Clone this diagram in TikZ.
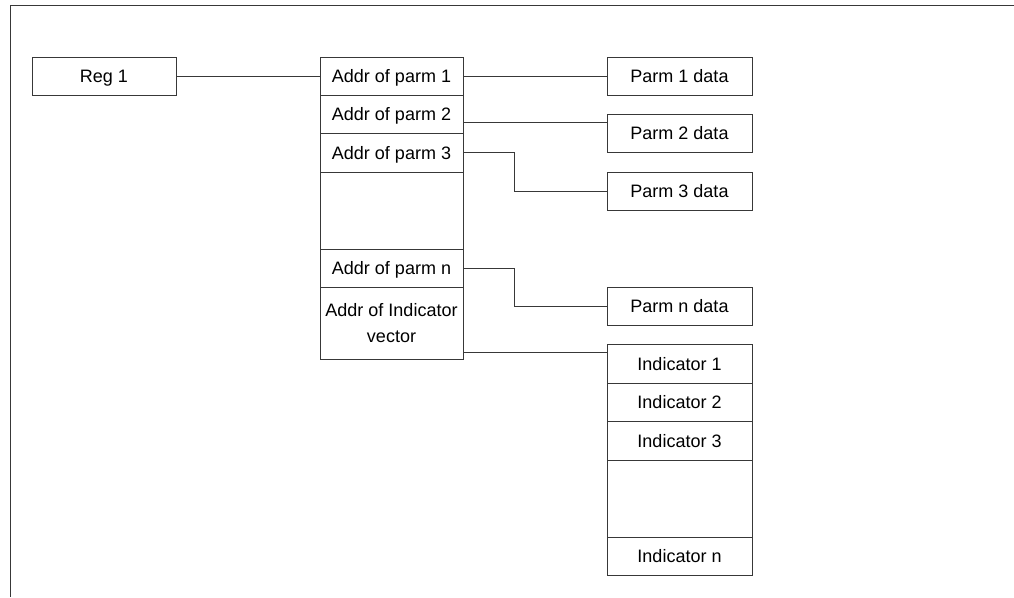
\documentclass[tikz,border=0pt]{standalone}
\usepackage{fontspec}
\setmainfont{Liberation Sans}
\definecolor{ln}{rgb}{0.22,0.22,0.22}
\begin{document}
\begin{tikzpicture}[x=1pt,y=-1pt,
  box/.style={draw=ln,line width=1pt,inner sep=0pt,font=\fontsize{18}{24}\selectfont,
    text height=13pt,text depth=0pt},
  wbox/.style={box,minimum width=144pt},
  mbox/.style={draw=ln,line width=1pt,inner sep=0pt,minimum width=143pt,
    font=\fontsize{18}{26}\selectfont},
  con/.style={draw=ln,line width=1pt},
  frame/.style={draw=ln,line width=1.6pt}]
\useasboundingbox (0,0) rectangle (1014,597);
\coordinate (ftr) at (1014,5.5);
\coordinate (ftl) at (10.5,5.5);
\coordinate (fbl) at (10.5,597);
\draw[frame] (ftr) -- (ftl) -- (fbl);

\node[wbox,minimum height=38pt] (reg) at (104,76) {Reg 1};

% main stack
\node[box,minimum width=143pt,minimum height=38pt] (r1) at (391.5,76) {Addr of parm 1};
\node[box,minimum width=143pt,minimum height=38pt] (r2) at (391.5,114) {Addr of parm 2};
\node[box,minimum width=143pt,minimum height=39pt] (r3) at (391.5,152.5) {Addr of parm 3};
\node[box,minimum width=143pt,minimum height=77pt] (rg) at (391.5,210.5) {};
\node[box,minimum width=143pt,minimum height=38pt] (rn) at (391.5,268) {Addr of parm n};
\node[mbox,minimum height=72pt,align=center] (riv) at (391.5,323) {Addr of Indicator\\vector};

% parm data
\node[wbox,minimum width=145pt,minimum height=38pt] (p1) at (679.5,76) {Parm 1 data};
\node[wbox,minimum width=145pt,minimum height=38pt] (p2) at (679.5,133) {Parm 2 data};
\node[wbox,minimum width=145pt,minimum height=38pt] (p3) at (679.5,191) {Parm 3 data};
\node[wbox,minimum width=145pt,minimum height=38pt] (pn) at (679.5,306) {Parm n data};

% indicator stack
\node[wbox,minimum width=145pt,minimum height=39pt] (i1) at (679.5,363.5) {Indicator 1};
\node[wbox,minimum width=145pt,minimum height=38pt] (i2) at (679.5,402) {Indicator 2};
\node[wbox,minimum width=145pt,minimum height=39pt] (i3) at (679.5,440.5) {Indicator 3};
\node[wbox,minimum width=145pt,minimum height=77pt] (ig) at (679.5,498.5) {};
\node[wbox,minimum width=145pt,minimum height=38pt] (in) at (679.5,556) {Indicator n};

% connectors
\draw[con] (reg.east) -- (r1.west);
\draw[con] (r1.east) -- (p1.west);
\draw[con] (r2.east |- 0,122) -- (p2.west |- 0,122);
\draw[con] (r3.east) -- ++(51,0) |- (p3.west);
\draw[con] (rn.east) -- ++(51,0) |- (pn.west);
\draw[con] (riv.east |- 0,352) -- (i1.west |- 0,352);
\end{tikzpicture}
\end{document}
